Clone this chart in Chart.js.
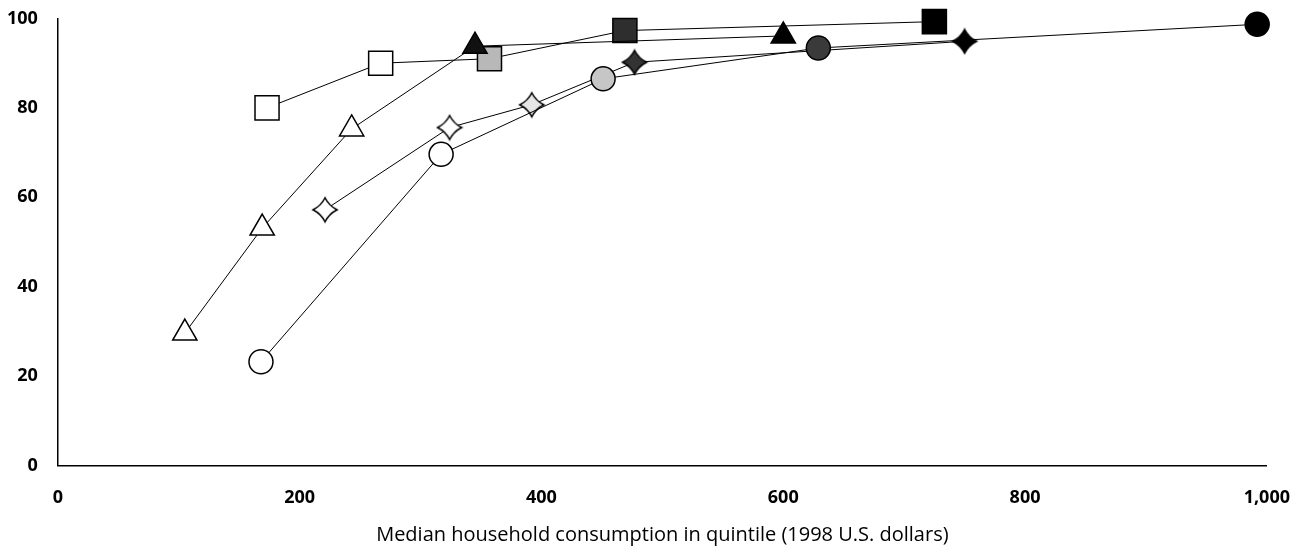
<!DOCTYPE html>
<html>
<head>
<meta charset="utf-8">
<script src="https://cdn.jsdelivr.net/npm/chart.js@4/dist/chart.umd.min.js"></script>
<style>
  html, body { margin: 0; padding: 0; background: #fff; }
  canvas { display: block; }
</style>
</head>
<body>
<canvas id="quintileChart" width="1290" height="551"></canvas>
<script>
const chartEl = document.getElementById("quintileChart");

// DATA (median household consumption per quintile vs. share, one series per marker shape)

const xTicks = [0, 200, 400, 600, 800, 1000];
const yTicks = [0, 20, 40, 60, 80, 100];

const squareX = [173, 267, 357, 469, 725];
const squareY = [80, 90, 91, 97.3, 99.3];

const triangleX = [105, 169, 243, 345, 600];
const triangleY = [29.6, 53.1, 75.3, 93.8, 96.1];

const circleX = [168, 317, 451, 629, 992];
const circleY = [23.2, 69.6, 86.5, 93.4, 98.7];

const starX = [221, 324, 392, 477, 750];
const starY = [57.2, 75.6, 80.7, 90.2, 94.9];

const xTitle = 'Median household consumption in quintile (1998 U.S. dollars)';

// STYLES

const squareFills = ['#ffffff', '#ffffff', '#b8b8b8', '#2e2e2e', '#000000'];
const triangleFills = ['#ffffff', '#ffffff', '#ffffff', '#111111', '#000000'];
const circleFills = ['#ffffff', '#ffffff', '#c6c6c6', '#3a3a3a', '#000000'];
const starFills = ['#ffffff', '#ffffff', '#e6e6e6', '#333333', '#000000'];

function toPoints(xs, ys) {
    return xs.map((x, i) => ({ x: x, y: ys[i] }));
}

// four pointed concave star, drawn once per fill colour
function makeStar(fill) {
    const c = document.createElement('canvas');
    c.width = 28;
    c.height = 28;
    const g = c.getContext('2d');
    const cx = 14, cy = 14, r = 12, k = 4;
    g.beginPath();
    g.moveTo(cx, cy - r);
    g.quadraticCurveTo(cx + k, cy - k, cx + r, cy);
    g.quadraticCurveTo(cx + k, cy + k, cx, cy + r);
    g.quadraticCurveTo(cx - k, cy + k, cx - r, cy);
    g.quadraticCurveTo(cx - k, cy - k, cx, cy - r);
    g.closePath();
    g.fillStyle = fill;
    g.fill();
    g.lineWidth = 1.5;
    g.strokeStyle = '#000';
    g.stroke();
    return c;
}

const starImages = starFills.map(makeStar);

const lineBase = {
    showLine: true,
    borderColor: '#000',
    borderWidth: 1,
    pointBorderColor: '#000',
    pointBorderWidth: 1.5,
    clip: false
};

// invisible tick marks give the label gap without padding the chart area edges
const hiddenTicks = len => ({
    display: true,
    drawOnChartArea: false,
    drawTicks: true,
    tickLength: len,
    tickColor: 'rgba(0,0,0,0)'
});

let quintileChart = new Chart(chartEl, {
    type: 'scatter',
    data: {
        datasets: [
            Object.assign({}, lineBase, {
                data: toPoints(circleX, circleY),
                pointStyle: 'circle',
                pointRadius: 12,
                pointBackgroundColor: circleFills
            }),
            Object.assign({}, lineBase, {
                data: toPoints(starX, starY),
                pointStyle: starImages,
                pointRadius: 12
            }),
            Object.assign({}, lineBase, {
                data: toPoints(triangleX, triangleY),
                pointStyle: 'triangle',
                pointRadius: 14,
                pointBackgroundColor: triangleFills
            }),
            Object.assign({}, lineBase, {
                data: toPoints(squareX, squareY),
                pointStyle: 'rect',
                pointRadius: 17,
                pointBackgroundColor: squareFills
            })
        ]
    },
    options: {
        responsive: false,
        animation: false,
        devicePixelRatio: 1,
        layout: { padding: { left: 7, top: 3, right: 0, bottom: 4 } },
        plugins: {
            legend: { display: false },
            tooltip: { enabled: false }
        },
        scales: {
            x: {
                type: 'linear',
                min: xTicks[0],
                max: xTicks[xTicks.length - 1],
                afterBuildTicks: axis => { axis.ticks = xTicks.map(v => ({ value: v })); },
                grid: hiddenTicks(22),
                border: { display: true, color: '#000', width: 1.5 },
                ticks: {
                    color: '#000',
                    padding: 0,
                    maxRotation: 0,
                    font: { family: 'Open Sans', size: 18, weight: 'bold' },
                    callback: v => v.toLocaleString('en-US')
                },
                title: {
                    display: true,
                    text: xTitle,
                    color: '#000',
                    padding: { top: 14, bottom: 0 },
                    font: { family: 'Open Sans', size: 20 }
                }
            },
            y: {
                type: 'linear',
                min: yTicks[0],
                max: yTicks[yTicks.length - 1],
                afterBuildTicks: axis => { axis.ticks = yTicks.map(v => ({ value: v })); },
                grid: hiddenTicks(20),
                border: { display: true, color: '#000', width: 1.5 },
                ticks: {
                    color: '#000',
                    padding: 0,
                    font: { family: 'Open Sans', size: 18, weight: 'bold' }
                }
            }
        }
    }
});
</script>
</body>
</html>
